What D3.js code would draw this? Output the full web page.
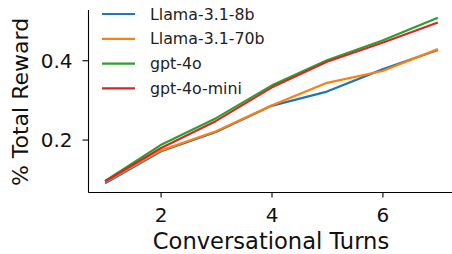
<!DOCTYPE html>
<html>
<head>
<meta charset="utf-8">
<script src="https://cdn.jsdelivr.net/npm/d3@7"></script>
<style>
  body { margin: 0; background: #fff; }
  svg { display: block; font-family: "DejaVu Sans", sans-serif; }
</style>
</head>
<body>
<script>
// Data
const turns = [1, 2, 3, 4, 5, 6, 7];
const models = ["Llama-3.1-8b", "Llama-3.1-70b", "gpt-4o", "gpt-4o-mini"];
const llama8b = [0.090, 0.170, 0.219, 0.285, 0.321, 0.377, 0.426];
const llama70b = [0.093, 0.172, 0.221, 0.286, 0.343, 0.373, 0.428];
const gpt4o = [0.096, 0.186, 0.254, 0.336, 0.400, 0.450, 0.507];
const gpt4oMini = [0.095, 0.178, 0.247, 0.331, 0.396, 0.444, 0.495];
const xTicks = [2, 4, 6];
const yTicks = [0.2, 0.4];

const series = [llama8b, llama70b, gpt4o, gpt4oMini];
const colors = ["#1f77b4", "#ff7f0e", "#2ca02c", "#d62728"];

const width = 452, height = 254;
const plot = { left: 88.5, right: 454.5, top: 10, bottom: 192.5 };

const svg = d3.select("body").append("svg")
  .attr("width", width)
  .attr("height", height);

const x = d3.scaleLinear().domain([0.7, 7.3]).range([plot.left, plot.right]);
const y = d3.scaleLinear().domain([0.0665, 0.5267]).range([plot.bottom, plot.top]);

// lines
const line = d3.line()
  .x((d, i) => x(turns[i]))
  .y(d => y(d));

svg.append("g")
  .selectAll("path")
  .data(series)
  .join("path")
  .attr("d", line)
  .attr("fill", "none")
  .attr("stroke", (d, i) => colors[i])
  .attr("stroke-width", 2.2)
  .attr("stroke-linejoin", "round");

// axes
const xAxis = svg.append("g")
  .attr("transform", `translate(0,${plot.bottom})`)
  .call(d3.axisBottom(x).tickValues(xTicks).tickFormat(d3.format("d")).tickSize(5).tickPadding(10));

const yAxis = svg.append("g")
  .attr("transform", `translate(${plot.left},0)`)
  .call(d3.axisLeft(y).tickValues(yTicks).tickFormat(d3.format(".1f")).tickSize(6).tickPadding(10));

[xAxis, yAxis].forEach(g => {
  g.select(".domain").attr("stroke", "#000").attr("stroke-width", 1.1);
  g.selectAll(".tick line").attr("stroke", "#000").attr("stroke-width", 1.1);
  g.selectAll(".tick text")
    .attr("fill", "#111")
    .style("font-size", "20px")
    .style("font-family", "DejaVu Sans");
});
xAxis.select(".domain").attr("d", `M${plot.left},0H${width}`);
yAxis.select(".domain").attr("d", `M0,${plot.top}V${plot.bottom}`);
yAxis.selectAll(".tick text").attr("dy", "0.35em");

// axis labels
svg.append("text")
  .attr("x", 271)
  .attr("y", 249)
  .attr("text-anchor", "middle")
  .attr("fill", "#111")
  .style("font-size", "22.6px")
  .text("Conversational Turns");

svg.append("text")
  .attr("transform", "translate(28,102) rotate(-90)")
  .attr("text-anchor", "middle")
  .attr("fill", "#111")
  .style("font-size", "22px")
  .text("% Total Reward");

// legend
const legend = svg.append("g")
  .selectAll("g")
  .data(models)
  .join("g")
  .attr("transform", (d, i) => `translate(102,${14 + i * 24.8})`);

legend.append("line")
  .attr("x1", 0).attr("x2", 33)
  .attr("stroke", (d, i) => colors[i])
  .attr("stroke-width", 2.2);

legend.append("text")
  .attr("x", 48)
  .attr("dy", "0.35em")
  .style("font-size", "15.8px")
  .attr("fill", "#222")
  .text(d => d);
</script>
</body>
</html>
